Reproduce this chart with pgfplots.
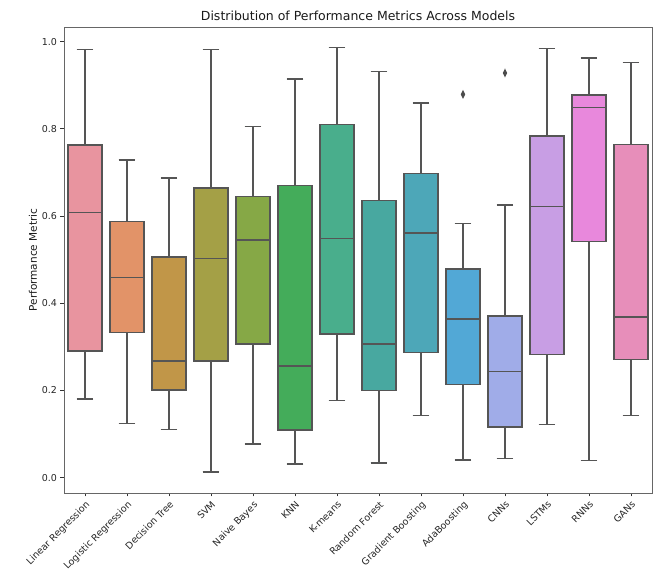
\documentclass[border=0pt]{standalone}
\usepackage{fontspec}
\setmainfont{DejaVu Sans}
\usepackage{pgfplots}
\pgfplotsset{compat=1.18}
\usepgfplotslibrary{statistics}

% box fills, one per model
\definecolor{c0}{HTML}{E8949F}
\definecolor{c1}{HTML}{E29368}
\definecolor{c2}{HTML}{C19648}
\definecolor{c3}{HTML}{A4A046}
\definecolor{c4}{HTML}{86A846}
\definecolor{c5}{HTML}{44AC5A}
\definecolor{c6}{HTML}{49AE8C}
\definecolor{c7}{HTML}{48A8A0}
\definecolor{c8}{HTML}{4DA7B8}
\definecolor{c9}{HTML}{52A8D6}
\definecolor{c10}{HTML}{A0ACE8}
\definecolor{c11}{HTML}{C89EE4}
\definecolor{c12}{HTML}{E888DC}
\definecolor{c13}{HTML}{E78EBA}
\definecolor{boxline}{HTML}{555555}

\pgfplotsset{
  modelstyle/.style={fill=#1, draw=boxline, line width=1.5pt,
    boxplot/every median/.style={draw=boxline, line width=1.5pt},
    mark=diamond*, mark size=2.8pt,
    mark options={xscale=0.65, fill=boxline!90!black, draw=boxline!90!black}},
}

% position, lower whisker, Q1, median, Q3, upper whisker, fill
\newcommand\modelbox[7]{%
  \addplot[boxplot prepared={draw position=#1, lower whisker=#2,
      lower quartile=#3, median=#4, upper quartile=#5, upper whisker=#6,
      box extend=0.8, whisker extend=0.4}, modelstyle=#7]
    coordinates {};}

\begin{document}
\begin{tikzpicture}
\begin{axis}[
  boxplot/draw direction=y,
  boxplot/every box/.style={draw=boxline, line width=1.5pt},
  boxplot/every median/.style={draw=boxline, line width=1.5pt},
  boxplot/every whisker/.style={draw=boxline, line width=1.5pt},
  every axis plot/.append style={line width=1.5pt},
  scale only axis, width=588pt, height=466pt,
  xmin=-0.5, xmax=13.5, ymin=-0.0353, ymax=1.0335,
  axis line style={black!60, line width=0.7pt},
  tick pos=left, tick align=outside, major tick length=3.5pt,
  tick style={black!80, line width=0.7pt},
  xtick={0,...,13},
  xticklabels={Linear Regression, Logistic Regression, Decision Tree, SVM,
    Naive Bayes, KNN, K-means, Random Forest, Gradient Boosting, AdaBoosting,
    CNNs, LSTMs, RNNs, GANs},
  xticklabel style={rotate=45, anchor=north east, inner sep=2.5pt,
    font=\fontsize{9.5}{11}\selectfont, text=black!85},
  ytick={0,0.2,0.4,0.6,0.8,1.0},
  /pgf/number format/assume math mode=true,
  yticklabel={\pgfmathprintnumber[fixed,fixed zerofill,precision=1]{\tick}},
  yticklabel style={font=\fontsize{9.5}{11}\selectfont, text=black!85},
  ylabel={Performance Metric},
  ylabel style={font=\fontsize{10.5}{12}\selectfont, text=black!90, yshift=-2pt},
  title={Distribution of Performance Metrics Across Models},
  title style={font=\fontsize{12.5}{14}\selectfont, text=black!90, yshift=-3pt},
]
\modelbox{0}{0.180}{0.290}{0.608}{0.763}{0.982}{c0}
\modelbox{1}{0.124}{0.333}{0.459}{0.587}{0.729}{c1}
\modelbox{2}{0.110}{0.201}{0.267}{0.506}{0.687}{c2}
\modelbox{3}{0.013}{0.267}{0.503}{0.664}{0.982}{c3}
\modelbox{4}{0.077}{0.307}{0.545}{0.645}{0.805}{c4}
\modelbox{5}{0.031}{0.109}{0.256}{0.670}{0.914}{c5}
\modelbox{6}{0.177}{0.329}{0.548}{0.810}{0.986}{c6}
\modelbox{7}{0.034}{0.200}{0.307}{0.635}{0.931}{c7}
\modelbox{8}{0.143}{0.287}{0.561}{0.697}{0.859}{c8}
% AdaBoosting and CNNs each have one outlier
\addplot[boxplot prepared={draw position=9, lower whisker=0.040,
    lower quartile=0.214, median=0.364, upper quartile=0.479, upper whisker=0.583,
    box extend=0.8, whisker extend=0.4}, modelstyle=c9]
  table[row sep=\\, y index=0] {0.879\\};
\addplot[boxplot prepared={draw position=10, lower whisker=0.044,
    lower quartile=0.116, median=0.243, upper quartile=0.371, upper whisker=0.625,
    box extend=0.8, whisker extend=0.4}, modelstyle=c10]
  table[row sep=\\, y index=0] {0.928\\};
\modelbox{11}{0.122}{0.282}{0.622}{0.783}{0.984}{c11}
\modelbox{12}{0.039}{0.542}{0.849}{0.878}{0.962}{c12}
\modelbox{13}{0.143}{0.271}{0.368}{0.764}{0.952}{c13}
\end{axis}
\pgfresetboundingbox
\path ([shift={(-64pt,-87pt)}]current axis.south west)
  rectangle ([shift={(5pt,27pt)}]current axis.north east);
\end{tikzpicture}
\end{document}
